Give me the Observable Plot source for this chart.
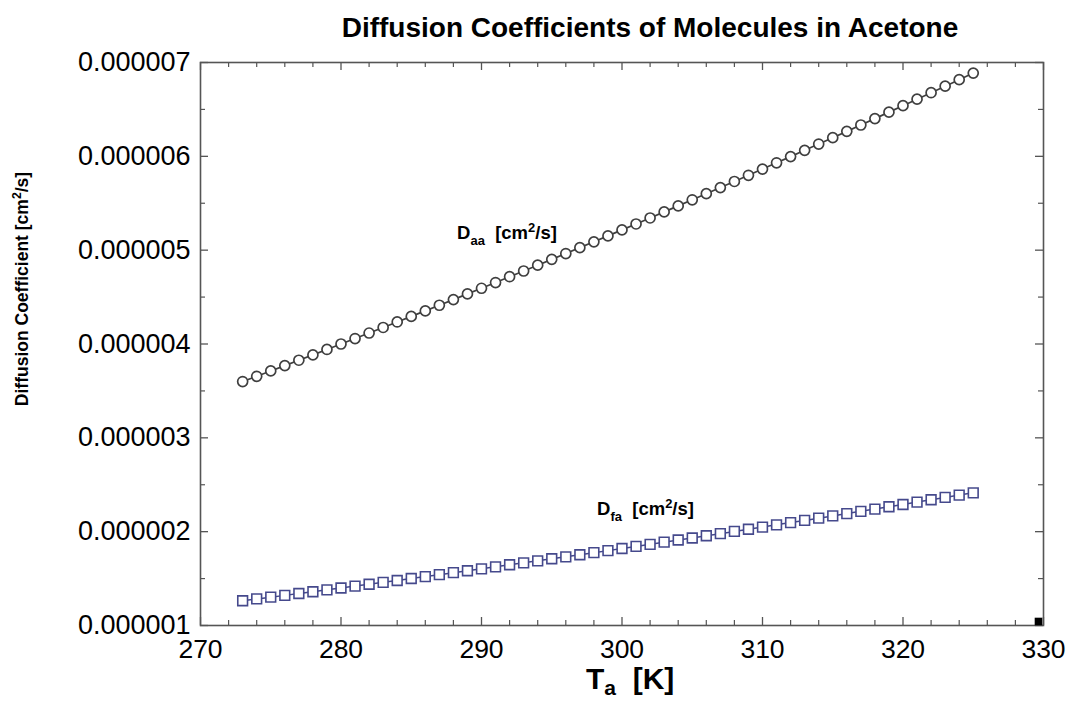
<!DOCTYPE html>
<html>
<head>
<meta charset="utf-8">
<script src="https://cdn.jsdelivr.net/npm/d3@7"></script>
<script src="https://cdn.jsdelivr.net/npm/@observablehq/plot@0.6"></script>
<style>
  html, body { margin: 0; padding: 0; background: #ffffff; }
  #chart svg { display: block; }
</style>
</head>
<body>
<div id="chart"></div>
<script>
// ---------- data (diffusion coefficients in units of 1e-6 cm^2/s) ----------
const unit = 1e-6;
const temperatures = [273,274,275,276,277,278,279,280,281,282,283,284,285,286,287,288,289,290,
  291,292,293,294,295,296,297,298,299,300,301,302,303,304,305,306,307,308,309,310,
  311,312,313,314,315,316,317,318,319,320,321,322,323,324,325];
const Daa = [3.600,3.656,3.713,3.770,3.827,3.884,3.942,4.000,4.058,4.117,4.176,4.235,4.294,4.353,
  4.413,4.473,4.534,4.594,4.655,4.717,4.778,4.840,4.902,4.964,5.027,5.089,5.152,5.216,5.279,
  5.343,5.408,5.472,5.537,5.602,5.667,5.732,5.798,5.864,5.931,5.997,6.064,6.131,6.199,6.266,
  6.334,6.402,6.471,6.540,6.609,6.678,6.748,6.817,6.887];
const Dfa = [1.264,1.283,1.302,1.321,1.341,1.360,1.380,1.400,1.420,1.440,1.460,1.480,1.501,1.521,
  1.542,1.563,1.583,1.604,1.625,1.647,1.668,1.689,1.711,1.732,1.754,1.776,1.798,1.821,1.843,
  1.865,1.888,1.911,1.933,1.956,1.979,2.003,2.026,2.049,2.073,2.097,2.120,2.144,2.168,2.193,
  2.217,2.241,2.266,2.290,2.315,2.340,2.365,2.390,2.414];

// tick values
const xMajorTicks = [270,280,290,300,310,320,330];
const xMinorTicks = [272,274,276,278,282,284,286,288,292,294,296,298,302,304,306,308,312,314,316,318,322,324,326,328];
const yMajorTicks = [1,2,3,4,5,6,7];
const yMinorTicks = [1.5,2.5,3.5,4.5,5.5,6.5];

// labels
const titleText = "Diffusion Coefficients of Molecules in Acetone";
const yLabelParts = [["Diffusion Coefficient [cm", "n"], ["2", "sup"], ["/s]", "n"]];
const xLabelParts = [["T", "n"], ["a", "sub"], ["  [K]", "n"]];
const seriesLabels = [
  {T: 288.3, D: 5.113, parts: [["D", "n"], ["aa", "sub"], ["  [cm", "n"], ["2", "sup"], ["/s]", "n"]]},
  {T: 298.26, D: 2.171, parts: [["D", "n"], ["fa", "sub"], ["  [cm", "n"], ["2", "sup"], ["/s]", "n"]]}
];
const cornerMark = [{T: 330, D: 1}];

// ---------- build ----------
const rows = temperatures.map((T, i) => ({T, Daa: Daa[i] * unit, Dfa: Dfa[i] * unit}));
const W = 1071, H = 702;
const mL = 200, mR = 28, mT = 62, mB = 77;
const frameW = W - mL - mR, frameH = H - mT - mB;
const font = "'Liberation Sans', Arial, Helvetica, sans-serif";
const axisCol = "#555555";
const darkLine = "#3f3f3f";
const navy = "#45498c";

const plot = Plot.plot({
  width: W, height: H,
  marginLeft: mL, marginRight: mR, marginTop: mT, marginBottom: mB,
  style: {fontFamily: font, background: "#ffffff", color: "#000"},
  x: {domain: [270, 330]},
  y: {domain: [1e-6, 7e-6]},
  marks: [
    // inward ticks on all four sides
    Plot.tickX(xMajorTicks, {x: d => d, insetTop: frameH - 8, stroke: axisCol, strokeWidth: 1.3}),
    Plot.tickX(xMinorTicks, {x: d => d, insetTop: frameH - 5, stroke: axisCol, strokeWidth: 1.2}),
    Plot.tickX(xMajorTicks, {x: d => d, insetBottom: frameH - 8, stroke: axisCol, strokeWidth: 1.3}),
    Plot.tickX(xMinorTicks, {x: d => d, insetBottom: frameH - 5, stroke: axisCol, strokeWidth: 1.2}),
    Plot.tickY(yMajorTicks, {y: d => d * unit, insetRight: frameW - 8, stroke: axisCol, strokeWidth: 1.3}),
    Plot.tickY(yMinorTicks, {y: d => d * unit, insetRight: frameW - 5, stroke: axisCol, strokeWidth: 1.2}),
    Plot.tickY(yMajorTicks, {y: d => d * unit, insetLeft: frameW - 8, stroke: axisCol, strokeWidth: 1.3}),
    Plot.tickY(yMinorTicks, {y: d => d * unit, insetLeft: frameW - 5, stroke: axisCol, strokeWidth: 1.2}),
    Plot.frame({stroke: axisCol, strokeWidth: 1.6}),
    Plot.axisX({ticks: xMajorTicks, tickSize: 0, tickPadding: 14, fontSize: 26.5, label: null, tickFormat: d3.format("d")}),
    Plot.axisY({ticks: yMajorTicks.map(d => d * unit), tickSize: 0, tickPadding: 10, fontSize: 27, label: null, tickFormat: d3.format(".6f")}),
    // series
    Plot.line(rows, {x: "T", y: "Daa", stroke: darkLine, strokeWidth: 1.7}),
    Plot.dot(rows, {x: "T", y: "Daa", r: 5, symbol: "circle", fill: "#ffffff", stroke: darkLine, strokeWidth: 1.7}),
    Plot.line(rows, {x: "T", y: "Dfa", stroke: navy, strokeWidth: 1.5}),
    Plot.dot(rows, {x: "T", y: "Dfa", r: 5.5, symbol: "square", fill: "#ffffff", stroke: navy, strokeWidth: 1.6}),
    Plot.dot(cornerMark, {x: "T", y: d => d.D * unit, r: 4.3, symbol: "square", fill: "#000", dx: -5, dy: -4})
  ]
});
document.getElementById("chart").appendChild(plot);

// ---------- rich text annotations ----------
const svg = d3.select(plot);
const xs = plot.scale("x"), ys = plot.scale("y");

function rich(x, y, parts, size, opts = {}) {
  const t = svg.append("text")
    .attr("x", x).attr("y", y)
    .attr("font-family", font)
    .attr("font-weight", "bold")
    .attr("font-size", size)
    .attr("fill", "#000")
    .attr("text-anchor", opts.anchor || "start")
    .style("white-space", "pre");
  if (opts.transform) t.attr("transform", opts.transform);
  const small = size * 0.7;
  const subShift = opts.sub != null ? opts.sub : 0.3;
  let shift = 0;
  parts.forEach(([s, kind]) => {
    const ts = t.append("tspan").text(s);
    const want = kind === "sub" ? size * subShift : kind === "sup" ? -size * 0.38 : 0;
    ts.attr("font-size", kind === "n" ? size : small).attr("dy", want - shift);
    shift = want;
  });
  return t;
}

// title
svg.append("text")
  .attr("x", 650).attr("y", 37)
  .attr("text-anchor", "middle")
  .attr("font-family", font).attr("font-weight", "bold").attr("font-size", 28)
  .attr("fill", "#000")
  .text(titleText);

// series labels
seriesLabels.forEach(l => rich(xs.apply(l.T), ys.apply(l.D * unit), l.parts, 18.5));

// x-axis label
rich(586, 689, xLabelParts, 30, {sub: 0.2});

// y-axis label (rotated)
rich(0, 0, yLabelParts, 17.5, {anchor: "middle", transform: "translate(28,289) rotate(-90)"});
</script>
</body>
</html>
